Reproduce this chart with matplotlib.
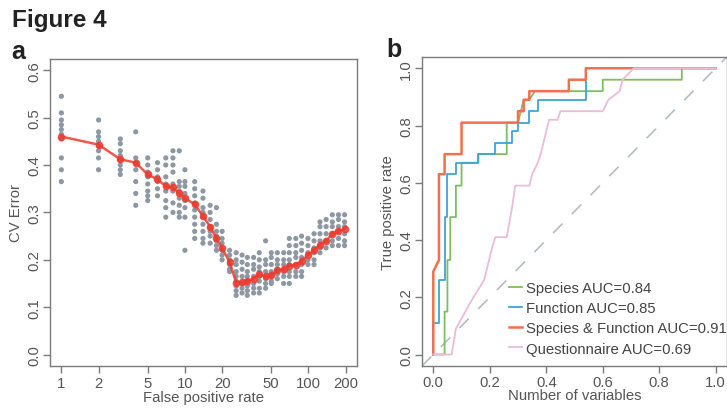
import numpy as np
import matplotlib.pyplot as plt

plt.rcParams['font.family'] = ['Liberation Sans', 'DejaVu Sans']

# panel a: cross-validation error against number of variables (log x)
cv_x = [1, 2, 3, 4, 5, 6, 7, 8, 9, 10, 12, 14, 16, 18, 20, 23, 26, 29, 32, 36,
        40, 45, 50, 56, 63, 70, 79, 88, 99, 111, 124, 139, 156, 175, 196]
cv_mean = [0.46, 0.443, 0.412, 0.405, 0.38, 0.37, 0.355, 0.353, 0.34, 0.33,
           0.317, 0.292, 0.27, 0.245, 0.225, 0.195, 0.152, 0.153, 0.155, 0.16,
           0.17, 0.165, 0.167, 0.178, 0.18, 0.187, 0.19, 0.197, 0.21, 0.22,
           0.232, 0.24, 0.255, 0.26, 0.265]
cv_runs = [
    [0.545, 0.51, 0.495, 0.485, 0.475, 0.465, 0.455, 0.415, 0.39, 0.365],
    [0.495, 0.47, 0.46, 0.45, 0.44, 0.43, 0.415, 0.39],
    [0.455, 0.445, 0.43, 0.42, 0.41, 0.40, 0.39, 0.38],
    [0.47, 0.415, 0.405, 0.39, 0.365, 0.34, 0.315],
    [0.415, 0.40, 0.385, 0.375, 0.36, 0.345, 0.335, 0.325],
    [0.405, 0.39, 0.375, 0.365, 0.35, 0.335],
    [0.415, 0.40, 0.375, 0.36, 0.345, 0.325, 0.31, 0.29],
    [0.43, 0.415, 0.40, 0.385, 0.36, 0.345, 0.32, 0.30],
    [0.43, 0.365, 0.355, 0.345, 0.33, 0.315, 0.30, 0.29],
    [0.39, 0.365, 0.355, 0.34, 0.325, 0.31, 0.29, 0.22],
    [0.365, 0.35, 0.335, 0.32, 0.305, 0.29, 0.275, 0.26, 0.245],
    [0.345, 0.33, 0.31, 0.30, 0.29, 0.275, 0.26, 0.245, 0.235],
    [0.315, 0.30, 0.285, 0.27, 0.26, 0.25, 0.235],
    [0.31, 0.275, 0.26, 0.25, 0.24, 0.23, 0.22],
    [0.26, 0.245, 0.235, 0.22, 0.21, 0.20],
    [0.22, 0.21, 0.20, 0.19, 0.18, 0.175],
    [0.215, 0.20, 0.19, 0.175, 0.165, 0.155, 0.145, 0.135, 0.125],
    [0.21, 0.195, 0.18, 0.165, 0.15, 0.14, 0.13],
    [0.205, 0.19, 0.175, 0.165, 0.155, 0.145, 0.135, 0.125],
    [0.205, 0.19, 0.18, 0.165, 0.15, 0.14, 0.13],
    [0.215, 0.20, 0.185, 0.175, 0.165, 0.155, 0.14, 0.13],
    [0.24, 0.20, 0.19, 0.175, 0.16, 0.15, 0.14],
    [0.215, 0.205, 0.19, 0.175, 0.165, 0.155, 0.15],
    [0.215, 0.20, 0.19, 0.18, 0.17, 0.16],
    [0.215, 0.20, 0.19, 0.175, 0.165, 0.15],
    [0.245, 0.23, 0.215, 0.20, 0.19, 0.175, 0.165, 0.15],
    [0.245, 0.23, 0.215, 0.205, 0.19, 0.175, 0.165],
    [0.25, 0.235, 0.22, 0.205, 0.19, 0.175, 0.165],
    [0.245, 0.23, 0.215, 0.20, 0.19],
    [0.255, 0.24, 0.225, 0.215, 0.20, 0.19],
    [0.28, 0.27, 0.255, 0.24, 0.225, 0.215],
    [0.285, 0.27, 0.255, 0.24, 0.225],
    [0.295, 0.28, 0.27, 0.255, 0.24, 0.23],
    [0.295, 0.285, 0.27, 0.26, 0.245, 0.23],
    [0.295, 0.28, 0.27, 0.255, 0.24, 0.23],
]

# panel b: ROC curves (corner points of the step curves)
sp_fpr = [0, 0.04, 0.04, 0.05, 0.05, 0.06, 0.06, 0.08, 0.08, 0.10, 0.10, 0.16, 0.16,
          0.26, 0.26, 0.30, 0.32, 0.34, 0.36, 0.60, 0.60, 0.88, 0.88, 1.0]
sp_tpr = [0, 0, 0.15, 0.15, 0.33, 0.33, 0.48, 0.48, 0.59, 0.59, 0.67, 0.67, 0.70,
          0.70, 0.81, 0.81, 0.89, 0.89, 0.92, 0.92, 0.96, 0.96, 1.0, 1.0]
fn_fpr = [0, 0, 0.02, 0.02, 0.04, 0.04, 0.05, 0.05, 0.08, 0.08, 0.16, 0.16, 0.22, 0.22,
          0.28, 0.28, 0.30, 0.30, 0.34, 0.34, 0.37, 0.37, 0.54, 0.54, 1.0]
fn_tpr = [0, 0.11, 0.11, 0.26, 0.26, 0.48, 0.48, 0.63, 0.63, 0.67, 0.67, 0.70, 0.70, 0.74,
          0.74, 0.78, 0.78, 0.81, 0.81, 0.85, 0.85, 0.89, 0.89, 1.0, 1.0]
sf_fpr = [0, 0, 0.02, 0.02, 0.04, 0.04, 0.10, 0.10, 0.30, 0.30, 0.32, 0.32, 0.34, 0.34,
          0.48, 0.48, 0.54, 0.54, 1.0]
sf_tpr = [0, 0.29, 0.33, 0.63, 0.63, 0.70, 0.70, 0.81, 0.81, 0.85, 0.85, 0.89, 0.89, 0.92,
          0.92, 0.96, 0.96, 1.0, 1.0]
qu_fpr = [0, 0.065, 0.08, 0.13, 0.18, 0.21, 0.22, 0.26, 0.28, 0.29, 0.34, 0.35, 0.37,
          0.38, 0.41, 0.44, 0.45, 0.60, 0.62, 0.66, 0.67, 0.71, 1.0]
qu_tpr = [0, 0, 0.09, 0.18, 0.26, 0.38, 0.41, 0.41, 0.52, 0.59, 0.59, 0.63, 0.67,
          0.70, 0.82, 0.82, 0.85, 0.85, 0.89, 0.92, 0.96, 1.0, 1.0]
roc_labels = ['Species AUC=0.84', 'Function AUC=0.85',
              'Species & Function AUC=0.91', 'Questionnaire AUC=0.69']
roc_colors = ['#7dbf5e', '#3fa4d4', '#f2704c', '#ecbcd6']

txt = '#555555'
frame = '#7a7a7a'
fs = 10.7


def r_style(ax, xpad, ypad):
    for s in ax.spines.values():
        s.set_color(frame)
        s.set_linewidth(1.0)
    ax.tick_params(direction='out', length=5, color=frame, labelcolor=txt,
                   labelsize=fs, width=1.0)
    ax.tick_params(axis='x', pad=xpad)
    ax.tick_params(axis='y', pad=ypad)
    for lab in ax.get_yticklabels():
        lab.set_rotation(90)
        lab.set_va('center')


fig = plt.figure(figsize=(7.27, 4.10), dpi=100)
fig.text(12 / 727, 1 - 27 / 410, 'Figure 4', fontsize=17.5, fontweight='bold', color='#222222')
fig.text(11 / 727, 1 - 59 / 410, 'a', fontsize=18, fontweight='bold', color='#222222')
fig.text(386 / 727, 1 - 57 / 410, 'b', fontsize=18, fontweight='bold', color='#222222')

# panel a
ax1 = fig.add_axes([50 / 727, 0.105, 307 / 727, 0.749])
for x, runs in zip(cv_x, cv_runs):
    ax1.scatter([x] * len(runs), runs, s=14, color='#8e98a3', edgecolors='none', zorder=2)
ax1.plot(cv_x, cv_mean, color='#ee3b2f', lw=1.8, marker='o', ms=4.5, alpha=0.85, zorder=3)
ax1.set_xscale('log')
ax1.set_xlim(10 ** -0.092, 10 ** 2.393)
ax1.set_ylim(-0.024, 0.624)
ax1.set_xticks([1, 2, 5, 10, 20, 50, 100, 200])
ax1.set_xticklabels(['1', '2', '5', '10', '20', '50', '100', '200'])
ax1.xaxis.set_minor_locator(plt.NullLocator())
ax1.set_yticks([0.0, 0.1, 0.2, 0.3, 0.4, 0.5, 0.6])
ax1.set_yticklabels(['0.0', '0.1', '0.2', '0.3', '0.4', '0.5', '0.6'])
ax1.set_xlabel('False positive rate', fontsize=fs, color=txt, labelpad=0)
ax1.set_ylabel('CV Error', fontsize=fs, color=txt, labelpad=3)
r_style(ax1, 2.5, 1.5)

# panel b
ax2 = fig.add_axes([422 / 727, 0.105, 305 / 727, 0.754])
ax2.axline((0, 0), (1, 1), color='#b5bcc4', lw=1.2, dashes=(8, 8), zorder=1)
curves = [(sp_fpr, sp_tpr), (fn_fpr, fn_tpr), (sf_fpr, sf_tpr), (qu_fpr, qu_tpr)]
order = [3, 0, 1, 2]
lines = {}
for i in order:
    fx, ty = curves[i]
    lw = 1.8 if i == 2 else 1.3
    lines[i], = ax2.plot(fx, ty, color=roc_colors[i], lw=lw, zorder=2 + i)
ax2.set_xlim(-0.04, 1.04)
ax2.set_ylim(-0.04, 1.04)
ax2.set_xticks([0.0, 0.2, 0.4, 0.6, 0.8, 1.0])
ax2.set_xticklabels(['0.0', '0.2', '0.4', '0.6', '0.8', '1.0'])
ax2.set_yticks([0.0, 0.2, 0.4, 0.6, 0.8, 1.0])
ax2.set_yticklabels(['0.0', '0.2', '0.4', '0.6', '0.8', '1.0'])
ax2.set_xlabel('Number of variables', fontsize=fs, color=txt, labelpad=-1)
ax2.set_ylabel('True positive rate', fontsize=fs, color=txt, labelpad=3)
r_style(ax2, 1.5, 1.5)
leg = ax2.legend([lines[i] for i in range(4)], roc_labels, loc='lower left',
                 bbox_to_anchor=(0.245, -0.005), frameon=False, fontsize=fs,
                 handlelength=0.9, handletextpad=0.3, labelspacing=0.42,
                 borderaxespad=0.4)
for t in leg.get_texts():
    t.set_color('#444444')

fig.savefig('out.png', dpi=100)
